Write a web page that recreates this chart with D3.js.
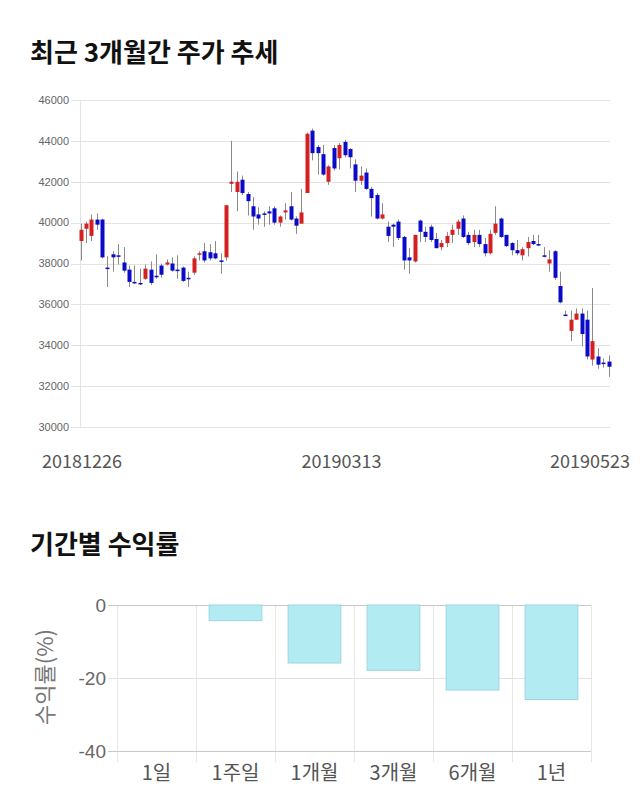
<!DOCTYPE html>
<html>
<head>
<meta charset="utf-8">
<script src="https://cdn.jsdelivr.net/npm/d3@7/dist/d3.min.js"></script>
<style>
  html, body { margin: 0; padding: 0; background: #fff; }
  svg { display: block; }
</style>
</head>
<body>
<svg id="chart" width="640" height="810"></svg>
<script>
// ---------- Data ----------
const dates = [
  "20181226","20181227","20181228",
  "20190102","20190103","20190104","20190107","20190108","20190109","20190110","20190111",
  "20190114","20190115","20190116","20190117","20190118","20190121","20190122","20190123",
  "20190124","20190125","20190128","20190129","20190130","20190131",
  "20190201","20190207","20190208","20190211","20190212","20190213","20190214","20190215",
  "20190218","20190219","20190220","20190221","20190222","20190225","20190226","20190227","20190228",
  "20190304","20190305","20190306","20190307","20190308","20190311","20190312","20190313",
  "20190314","20190315","20190318","20190319","20190320","20190321","20190322",
  "20190325","20190326","20190327","20190328","20190329",
  "20190401","20190402","20190403","20190404","20190405","20190408","20190409","20190410",
  "20190411","20190412","20190415","20190416","20190417","20190418","20190419",
  "20190422","20190423","20190424","20190425","20190426","20190429","20190430",
  "20190502","20190503","20190507","20190508","20190509","20190510",
  "20190513","20190514","20190515","20190516","20190517","20190520","20190521","20190522","20190523"
];
const openP  = [39100,39700,39350,40150,40150,37800,38450,38400,38050,37700,37100,37050,37250,37700,37400,37900,37950,38000,37700,37800,37300,37550,38450,38600,38550,38500,38150,38300,41900,41500,42100,41400,40800,40400,40450,40550,40700,40000,40500,40800,40200,39950,41450,44500,43700,43350,42000,43650,43150,43950,43600,42850,42050,42450,41650,41350,40200,39800,39900,40050,39300,38300,38100,40100,39550,39800,39200,38800,39000,39400,39700,40200,39400,39050,39400,38950,38500,39500,40200,39400,39000,38650,38400,38750,39100,38950,38400,38000,38600,36900,35500,34700,35250,35550,35250,33300,33450,33150,33200];
const highP  = [39950,40050,40400,40450,40200,38350,38600,38950,38800,37900,37900,37750,37950,38100,38450,38000,38200,38300,38400,37850,37600,38350,38600,39000,38950,39100,38500,40850,44000,42500,42300,41500,41250,40750,40550,40800,40800,40350,40950,41500,40300,41650,44400,44600,43800,43800,42800,43800,43900,44050,43650,43100,42750,42650,41750,41450,40950,40050,39950,40150,39350,38750,39400,40150,39800,39900,39500,39150,39550,39900,40150,40350,39550,39650,39650,39250,39650,40800,40250,39400,39050,39150,38800,39300,39400,39400,38800,38650,38650,37600,35700,35700,35800,35800,35700,36800,33850,33350,33500];
const lowP   = [38150,39000,39100,39650,38250,36850,37600,37950,37550,36850,37000,36950,37200,36950,37250,37300,37900,37600,37250,37100,36850,37450,38150,38050,38150,38200,37500,38150,41500,40550,41350,40350,39650,39900,39800,39900,39900,39800,40150,40100,39450,39950,41450,43050,42350,42300,41850,42550,42600,43200,42650,41500,41850,41600,40300,40150,40150,39050,38800,39150,37700,37500,38050,39050,39050,39050,38750,38650,38800,39000,39400,39250,38900,38800,38800,38350,38450,39400,39250,38800,38400,38400,38150,38350,38900,38850,38300,37600,37200,36050,35450,34200,35250,33950,33300,33000,32850,32900,32450];
const closeP = [39650,39950,40150,39900,38300,37750,38300,38350,37650,37100,37050,37000,37750,37050,37350,37450,38050,37650,37650,37150,37250,38250,38500,38150,38250,38250,38100,40850,42000,42000,41450,41050,40300,40200,40400,40450,40000,40300,40600,40150,39850,40500,44350,43400,43400,42350,42750,42650,43800,43300,43200,42050,42300,41650,41200,40200,40400,39350,39800,39250,38150,38150,39400,39550,39300,39150,38750,39000,39350,39650,40050,39300,39000,39400,38950,38500,39450,39950,39300,38850,38650,38500,38700,39050,38950,38900,38350,38200,37300,36100,35450,35250,35550,34550,33450,34200,33050,33100,32950];
const yTicks = [30000,32000,34000,36000,38000,40000,42000,44000,46000];
const xTickLabels = ["20181226","20190313","20190523"];

const periods = ["1일","1주일","1개월","3개월","6개월","1년"];
const returns = [0,-4.3,-15.9,-17.9,-23.3,-25.9];
const returnTicks = [0,-20,-40];

const titleTop = "최근 3개월간 주가 추세";
const titleBottom = "기간별 수익률";
const returnAxisTitle = "수익률(%)";

// ---------- Drawing ----------
const svg = d3.select("#chart");
const KR = "'Noto Sans CJK KR','Noto Sans',sans-serif";
const NUM = "'Liberation Sans',Arial,sans-serif";

svg.append("text").attr("x", 30).attr("y", 62)
  .attr("font-family", KR).attr("font-weight", 700).attr("font-size", 26)
  .attr("fill", "#111").text(titleTop);

// Candlestick chart
const candles = dates.map((d, i) => ({d, o: openP[i], h: highP[i], l: lowP[i], c: closeP[i]}));
const y = d3.scaleLinear().domain([30000, 46000]).range([427, 100]);
const x = d3.scalePoint().domain(dates).range([80.5, 608.5]);

const gTop = svg.append("g");
gTop.selectAll("line.grid").data(yTicks).join("line")
  .attr("x1", 71).attr("x2", 610)
  .attr("y1", d => Math.round(y(d)) + 0.5).attr("y2", d => Math.round(y(d)) + 0.5)
  .attr("stroke", "#e3e3e3").attr("stroke-width", 1);
gTop.append("line").attr("x1", 80.5).attr("x2", 80.5).attr("y1", 100).attr("y2", 427)
  .attr("stroke", "#e3e3e3");
gTop.selectAll("text.yt").data(yTicks).join("text")
  .attr("x", 69).attr("y", d => y(d)).attr("dy", "0.35em")
  .attr("text-anchor", "end").attr("font-family", NUM).attr("font-size", 11)
  .attr("fill", "#666").text(d => d);
// x labels (kept inside the picture)
gTop.selectAll("text.xt").data(xTickLabels).join("text")
  .attr("x", d => Math.max(82, Math.min(x(d) - 3, 590))).attr("y", 468)
  .attr("text-anchor", "middle").attr("font-family", KR).attr("font-size", 18)
  .attr("fill", "#555").text(d => d);

const RED = "#d42020", BLUE = "#0a0ac8";
const cg = gTop.selectAll("g.candle").data(candles).join("g");
cg.append("line")
  .attr("x1", d => Math.round(x(d.d)) + 0.5).attr("x2", d => Math.round(x(d.d)) + 0.5)
  .attr("y1", d => y(d.h)).attr("y2", d => y(d.l))
  .attr("stroke", "#8a8a8a").attr("stroke-width", 1);
cg.append("rect")
  .attr("x", d => Math.round(x(d.d)) - 1.5).attr("width", 4)
  .attr("y", d => y(Math.max(d.o, d.c)))
  .attr("height", d => Math.max(1.5, Math.abs(y(d.o) - y(d.c))))
  .attr("fill", d => d.c > d.o ? RED : (d.c < d.o ? BLUE : "#333"));

// Returns chart
svg.append("text").attr("x", 30).attr("y", 554)
  .attr("font-family", KR).attr("font-weight", 700).attr("font-size", 26)
  .attr("fill", "#111").text(titleBottom);

const xb = d3.scaleBand().domain(periods).range([117, 591]).paddingInner(0.32).paddingOuter(0.16);
const yb = d3.scaleLinear().domain([-40, 0]).range([751, 605]);
const gB = svg.append("g");
const bw = (591 - 117) / periods.length;
gB.selectAll("line.vg").data(d3.range(periods.length + 1)).join("line")
  .attr("x1", i => Math.round(117 + i * bw) + 0.5).attr("x2", i => Math.round(117 + i * bw) + 0.5)
  .attr("y1", 605).attr("y2", 762)
  .attr("stroke", "#e6e6e6");
gB.selectAll("line.hg").data(returnTicks).join("line")
  .attr("x1", 108).attr("x2", 591)
  .attr("y1", d => Math.round(yb(d)) + 0.5).attr("y2", d => Math.round(yb(d)) + 0.5)
  .attr("stroke", d => d === 0 || d === -40 ? "#c8c8c8" : "#e3e3e3");
gB.selectAll("text.yt").data(returnTicks).join("text")
  .attr("x", 106).attr("y", d => yb(d)).attr("dy", "0.36em")
  .attr("text-anchor", "end").attr("font-family", NUM).attr("font-size", 19)
  .attr("fill", "#666").text(d => d);
gB.selectAll("rect.bar").data(periods).join("rect")
  .attr("x", (p) => xb(p) + 0.5).attr("width", xb.bandwidth() - 1)
  .attr("y", (p, i) => yb(Math.max(0, returns[i])))
  .attr("height", (p, i) => Math.abs(yb(returns[i]) - yb(0)))
  .attr("fill", "#b2ebf2").attr("stroke", "#9cd6df").attr("stroke-width", 1);
gB.selectAll("text.cat").data(periods).join("text")
  .attr("x", p => xb(p) + xb.bandwidth() / 2).attr("y", 780)
  .attr("text-anchor", "middle").attr("font-family", KR).attr("font-size", 20)
  .attr("fill", "#555").text(p => p);
svg.append("text")
  .attr("transform", "translate(53,677) rotate(-90)")
  .attr("text-anchor", "middle").attr("font-family", KR).attr("font-size", 22)
  .attr("fill", "#777").text(returnAxisTitle);
</script>
</body>
</html>
